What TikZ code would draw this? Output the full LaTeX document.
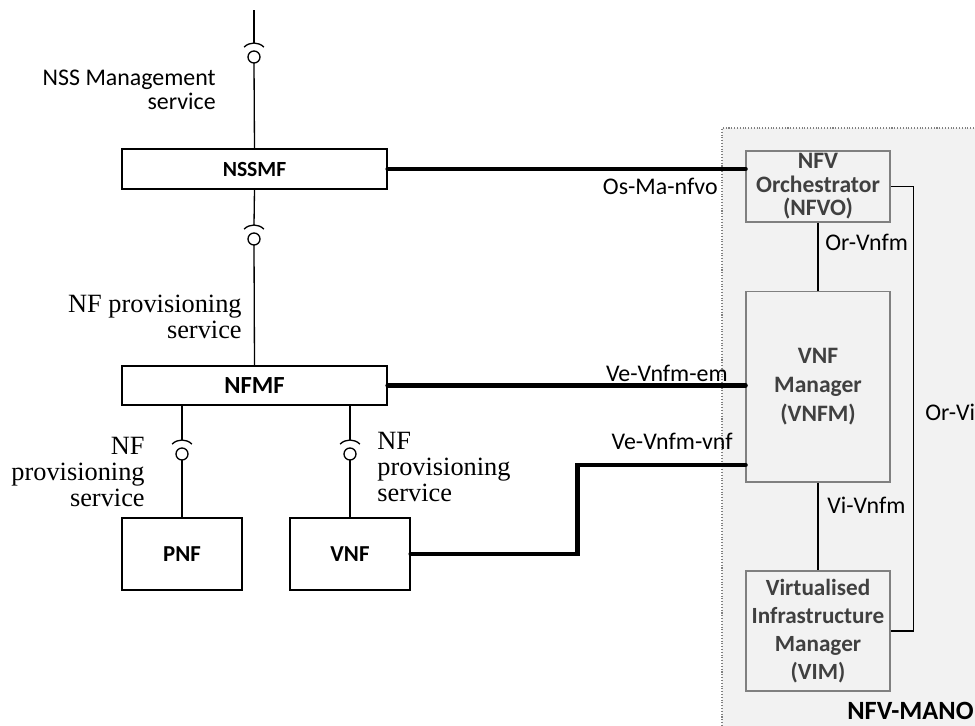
\documentclass[tikz,border=0pt]{standalone}
\usepackage{fontspec}
\setmainfont{Carlito}
\newfontfamily\tmsfont{Liberation Serif}
\usetikzlibrary{calc}
\colorlet{manogray}{black!5}
\colorlet{boxgray}{black!50}
\colorlet{txtgray}{black!75}
\tikzset{
  fbox/.style={draw,line width=0.8pt,inner sep=0pt},
  mbox/.style={draw=boxgray,line width=0.6pt,fill=manogray,text=txtgray,
    align=center,inner sep=0pt,minimum width=2.88cm},
  bus/.style={line width=2.6pt,line cap=round},
  link/.style={line width=0.75pt},
  lbl/.style={inner sep=0pt,font=\fontsize{13.6}{13.6}\selectfont},
  svc/.style={inner sep=0pt,font=\tmsfont\fontsize{15}{14.7}\selectfont},
  iface/.pic={
    \draw[link,fill=white] (0,0) circle (6);
    \draw[link] (225:14) arc (225:315:14);
    \coordinate (-top) at (0,-14);
    \coordinate (-bot) at (0,6);
  }
}

\begin{document}
\begin{tikzpicture}[x=0.02cm,y=-0.02cm]
  \useasboundingbox (0,0) rectangle (975,725);
  % NFV-MANO area
  \fill[manogray] (722,128) rectangle (990,740);
  \draw[boxgray,densely dotted,line width=0.6pt] (722,740) -- (722,128) -- (990,128);
  \node[lbl,anchor=base west,font=\bfseries\fontsize{15}{18}\selectfont] (mano) at (847,719) {NFV-MANO};

  % management functions
  \node[fbox,minimum width=5.3cm,minimum height=0.8cm,font=\bfseries\fontsize{12.3}{14}\selectfont] (nssmf) at (254.5,169) {NSSMF};
  \node[fbox,minimum width=5.3cm,minimum height=0.78cm,font=\bfseries\fontsize{14}{16}\selectfont] (nfmf) at (254.5,385.5) {NFMF};
  \node[fbox,minimum width=2.4cm,minimum height=1.44cm,font=\bfseries\fontsize{13}{15}\selectfont] (pnf) at (182,554) {PNF};
  \node[fbox,minimum width=2.4cm,minimum height=1.44cm,font=\bfseries\fontsize{13}{15}\selectfont] (vnf) at (350,554) {VNF};

  % MANO blocks
  \node[mbox,minimum height=1.42cm,font=\bfseries\fontsize{13.4}{13.3}\selectfont] (nfvo) at (818,186.5) {NFV\\Orchestrator\\(NFVO)};
  \node[mbox,minimum height=3.82cm,font=\bfseries\fontsize{13.4}{16.4}\selectfont] (vnfm) at (818,386.5) {VNF\\Manager\\(VNFM)};
  \node[mbox,minimum height=2.4cm,font=\bfseries\fontsize{13.2}{15.9}\selectfont] (vim) at (818,631) {Virtualised\\Infrastructure\\Manager\\(VIM)};

  % service interfaces
  \coordinate (top) at (254,10);
  \pic (sm) at (254,57) {iface};
  \pic (np) at (254,239) {iface};
  \pic (pn) at (182,454) {iface};
  \pic (vn) at (350,454) {iface};
  \draw[link] (top) -- (sm-top);
  \draw[link] (sm-bot) -- (nssmf.north);
  \draw[link] (nssmf.south) -- (np-top);
  \draw[link] (np-bot) -- (nfmf.north);
  \draw[link] (pnf.north |- nfmf.south) -- (pn-top);
  \draw[link] (pn-bot) -- (pnf.north);
  \draw[link] (vnf.north |- nfmf.south) -- (vn-top);
  \draw[link] (vn-bot) -- (vnf.north);

  \node[lbl,align=right,anchor=east] (smlbl) at (216,89.6) {NSS Management\\service};
  \node[svc,align=right,anchor=east] (nplbl) at (242,317) {NF provisioning\\service};
  \node[svc,align=right,anchor=east] (pnlbl) at (145,472) {NF\\provisioning\\service};
  \node[svc,align=left,anchor=west] (vnlbl) at (377,467) {NF\\provisioning\\service};

  % reference points
  \draw[bus] (nssmf.east) -- (nssmf.east -| nfvo.west);
  \draw[bus] (nfmf.east) -- (nfmf.east -| vnfm.west);
  \draw[bus] (vnf.east) -- ++(167,0) |- ($(vnfm.west)+(0,78.5)$);
  \draw[link] (nfvo.south) -- (vnfm.north);
  \draw[link] (vnfm.south) -- (vim.north);
  \draw[link] (nfvo.east) -- ++(23,0) |- (vim.east);

  \node[lbl,anchor=base east] (osma) at (718,194) {Os-Ma-nfvo};
  \node[lbl,anchor=base east] (veem) at (728,381) {Ve-Vnfm-em};
  \node[lbl,anchor=base east] (vevnf) at (733,449) {Ve-Vnfm-vnf};
  \node[lbl,anchor=base west] (orvnfm) at (825,250) {Or-Vnfm};
  \node[lbl,anchor=base west] (vivnfm) at (827,513) {Vi-Vnfm};
  \node[lbl,anchor=base west] (orvi) at (925,420) {Or-Vi};
\end{tikzpicture}
\end{document}
